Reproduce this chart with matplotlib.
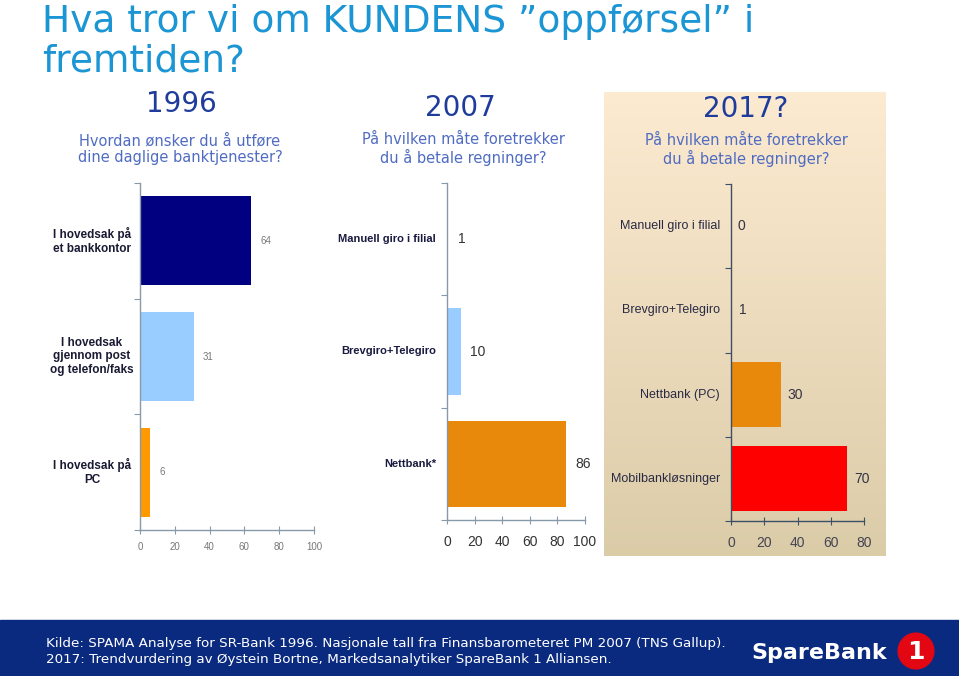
import numpy as np
import matplotlib
matplotlib.use("Agg")
import matplotlib.pyplot as plt
from matplotlib.patches import Rectangle, Circle
from matplotlib.transforms import blended_transform_factory

### data ###
cats_1996 = ["I hovedsak på\net bankkontor", "I hovedsak\ngjennom post\nog telefon/faks", "I hovedsak på\nPC"]
vals_1996 = [64, 31, 6]
cats_2007 = ["Manuell giro i filial", "Brevgiro+Telegiro", "Nettbank*"]
vals_2007 = [1, 10, 86]
cats_2017 = ["Manuell giro i filial", "Brevgiro+Telegiro", "Nettbank (PC)", "Mobilbankløsninger"]
vals_2017 = [0, 1, 30, 70]
ticks_100 = [0, 20, 40, 60, 80, 100]
ticks_80 = [0, 20, 40, 60, 80]

W, H = 959, 676
fig = plt.figure(figsize=(W / 100, H / 100), dpi=100)
fig.patch.set_facecolor("white")
ARIAL = "Liberation Sans"


def px_axes(x0, y0, x1, y1, **kw):
    # pixel box (top-left origin) -> figure axes
    return fig.add_axes([x0 / W, 1 - y1 / H, (x1 - x0) / W, (y1 - y0) / H], **kw)


def fx(x):
    return x / W


def fy(y):
    return 1 - y / H


###slide title###
fig.text(fx(42), fy(22), "Hva tror vi om KUNDENS \u201doppførsel\u201d i", color="#1b95d3",
         fontsize=27, va="center", ha="left")
fig.text(fx(42), fy(62), "fremtiden?", color="#1b95d3", fontsize=27, va="center", ha="left")

###beige gradient panel behind 2017###
bg = px_axes(604, 92, 886, 556)
grad = np.linspace(0, 1, 256)[:, None]
top = np.array([0.99, 0.92, 0.82])
bot = np.array([0.86, 0.80, 0.66])
img = top[None, None, :] * (1 - grad[:, :, None]) + bot[None, None, :] * grad[:, :, None]
bg.imshow(img, aspect="auto", extent=[0, 1, 0, 1])
bg.axis("off")


def draw_chart(box, cats, vals, colors, xmax, xticks, style):
    ax = px_axes(*box)
    ax.set_facecolor("none")
    n = len(cats)
    ypos = np.arange(n) + 0.5
    ax.barh(ypos, vals, height=0.77, color=colors)
    ax.set_ylim(n, 0)
    ax.set_xlim(0, xmax)
    for s in ["top", "right"]:
        ax.spines[s].set_visible(False)
    for s in ["left", "bottom"]:
        ax.spines[s].set_color(style["axis"])
        ax.spines[s].set_linewidth(1.0)
    ax.set_yticks(np.arange(n + 1))
    ax.set_yticklabels([])
    ax.tick_params(axis="y", length=4, color=style["axis"])
    ax.set_xticks(xticks)
    ax.tick_params(axis="x", direction="inout", length=6, color=style["axis"],
                   labelsize=style["ticksize"], labelcolor=style["tickcolor"], pad=style["pad"])
    for lab in ax.get_xticklabels():
        lab.set_family(ARIAL)
    for y, v in zip(ypos, vals):
        ax.text(v + xmax * style["off"], y, str(v), va="center", ha="left", family=ARIAL,
                fontsize=style["valsize"], color=style["valcolor"])
    tr = blended_transform_factory(fig.transFigure, ax.transData)
    for y, c in zip(ypos, cats):
        ax.text(fx(style["labx"]), y, c, transform=tr, va="center", ha=style["laba"], family=ARIAL,
                fontsize=style["labsize"], fontweight=style["labw"], color=style["labcolor"],
                linespacing=1.15)
    return ax


draw_chart((140, 183, 314, 530), cats_1996, vals_1996, ["#000080", "#99ccff", "#ff9900"], 100, ticks_100,
           dict(axis="#8899aa", ticksize=7, tickcolor="#777777", pad=6, off=0.05, valsize=7,
                valcolor="#777777", labx=92, laba="center", labsize=8.5, labw="bold", labcolor="#1a1a33"))
draw_chart((447, 183, 585, 520), cats_2007, vals_2007, ["#14147a", "#99ccff", "#e8890c"], 100, ticks_100,
           dict(axis="#8899aa", ticksize=10, tickcolor="#333333", pad=8, off=0.07, valsize=10,
                valcolor="#333333", labx=436, laba="right", labsize=8, labw="bold", labcolor="#1a1a40"))
draw_chart((731, 184, 864, 521), cats_2017, vals_2017, ["none", "none", "#e8890c", "#ff0000"], 80, ticks_80,
           dict(axis="#3d4f66", ticksize=10, tickcolor="#444455", pad=8, off=0.05, valsize=10,
                valcolor="#333344", labx=720, laba="right", labsize=9, labw="normal", labcolor="#2a2a44"))

###chart headings###
fig.text(fx(181), fy(104), "1996", color="#1f3c9c", fontsize=20, ha="center", va="center")
fig.text(fx(180), fy(149), "Hvordan ønsker du å utføre\ndine daglige banktjenester?", color="#4f6cc2",
         fontsize=10.5, ha="center", va="center", linespacing=1.1)
fig.text(fx(460), fy(108), "2007", color="#1f3c9c", fontsize=20, ha="center", va="center")
fig.text(fx(463), fy(149), "På hvilken måte foretrekker\ndu å betale regninger?", color="#4f6cc2",
         fontsize=10.5, ha="center", va="center", linespacing=1.1)
fig.text(fx(746), fy(109), "2017?", color="#1f3c9c", fontsize=20, ha="center", va="center")
fig.text(fx(746), fy(150), "På hvilken måte foretrekker\ndu å betale regninger?", color="#4f6cc2",
         fontsize=10.5, ha="center", va="center", linespacing=1.1)

###footer band with source and logo###
fig.add_artist(Rectangle((0, 0), 1, 56 / H, transform=fig.transFigure, color="#0a2a80", zorder=0))
fig.text(fx(46), fy(643), "Kilde: SPAMA Analyse for SR-Bank 1996. Nasjonale tall fra Finansbarometeret PM 2007 (TNS Gallup).",
         color="white", fontsize=9.7, ha="left", va="center")
fig.text(fx(46), fy(660), "2017: Trendvurdering av Øystein Bortne, Markedsanalytiker SpareBank 1 Alliansen.",
         color="white", fontsize=9.7, ha="left", va="center")
fig.text(fx(751), fy(653), "SpareBank", color="white", fontsize=16, fontweight="bold", ha="left", va="center")
logo = px_axes(897, 632, 935, 670)
logo.set_xlim(0, 1)
logo.set_ylim(0, 1)
logo.add_patch(Circle((0.5, 0.5), 0.47, color="#e30613"))
logo.text(0.5, 0.48, "1", color="white", fontsize=18, fontweight="bold", ha="center", va="center")
logo.axis("off")

plt.savefig("out.png", dpi=100)
